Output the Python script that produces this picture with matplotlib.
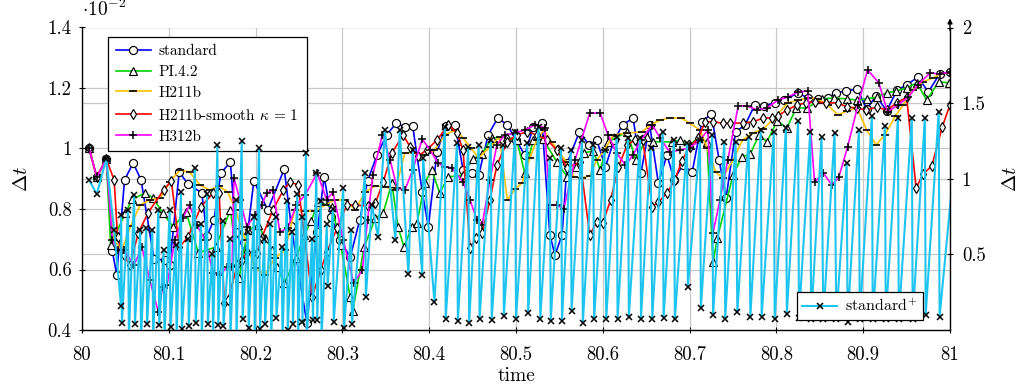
import matplotlib
matplotlib.use('Agg')
import matplotlib.pyplot as plt
from matplotlib.ticker import FixedLocator, FuncFormatter

plt.rcParams['font.family'] = ['cmr10', 'DejaVu Serif']
plt.rcParams['mathtext.fontset'] = 'cm'
plt.rcParams['axes.unicode_minus'] = False
plt.rcParams['axes.formatter.use_mathtext'] = True

# ---------------- data ----------------
std_t = [80.008, 80.017, 80.028, 80.035, 80.040, 80.049, 80.059, 80.068, 80.083, 80.096, 80.101,
         80.112, 80.122, 80.138, 80.144, 80.152, 80.160, 80.171, 80.177, 80.188, 80.198, 80.214,
         80.233, 80.241, 80.259, 80.271, 80.279, 80.287, 80.297, 80.309, 80.320, 80.329, 80.340,
         80.351, 80.362, 80.372, 80.381, 80.392, 80.399, 80.409, 80.419, 80.430, 80.439, 80.449,
         80.457, 80.468, 80.479, 80.490, 80.500, 80.510, 80.520, 80.530, 80.539, 80.545, 80.553,
         80.559, 80.573, 80.584, 80.593, 80.603, 80.613, 80.623, 80.635, 80.644, 80.654, 80.664,
         80.674, 80.682, 80.692, 80.703, 80.714, 80.725, 80.734, 80.742, 80.753, 80.764, 80.775,
         80.786, 80.798, 80.809, 80.825, 80.836, 80.848, 80.859, 80.869, 80.880, 80.893, 80.904,
         80.915, 80.927, 80.939, 80.950, 80.963, 80.975, 80.988, 81.000]
std_v = [1.002, 0.906, 0.965, 0.661, 0.582, 0.896, 0.952, 0.896, 0.635, 0.631, 0.615,
         0.922, 0.883, 0.853, 0.711, 0.764, 0.919, 0.955, 0.724, 0.655, 0.893, 0.797,
         0.932, 0.744, 0.423, 0.724, 0.906, 0.774, 0.698, 0.641, 0.764, 0.893, 0.979,
         1.045, 1.084, 1.071, 1.074, 0.856, 0.741, 0.988, 1.074, 1.078, 0.929, 0.919,
         0.912, 1.045, 1.101, 1.078, 1.028, 0.979, 1.071, 1.084, 0.714, 0.648, 0.714,
         0.952, 1.055, 1.012, 1.028, 0.939, 1.028, 1.078, 1.101, 0.919, 1.078, 0.886,
         0.979, 0.896, 0.945, 0.922, 1.088, 1.114, 0.962, 0.836, 1.055, 1.078, 1.144,
         1.141, 1.151, 1.160, 1.184, 1.167, 1.164, 1.167, 1.184, 1.190, 1.197, 1.131,
         1.174, 1.124, 1.193, 1.210, 1.236, 1.187, 1.246, 1.253]

pi_t = [80.008, 80.017, 80.028, 80.033, 80.050, 80.058, 80.073, 80.082, 80.093, 80.105, 80.120,
        80.134, 80.154, 80.171, 80.181, 80.191, 80.203, 80.211, 80.219, 80.225, 80.233, 80.247,
        80.256, 80.264, 80.272, 80.288, 80.298, 80.309, 80.312, 80.325, 80.338, 80.347, 80.357,
        80.364, 80.371, 80.380, 80.386, 80.395, 80.403, 80.412, 80.422, 80.439, 80.450, 80.461,
        80.472, 80.490, 80.501, 80.510, 80.520, 80.531, 80.547, 80.559, 80.569, 80.578, 80.589,
        80.597, 80.606, 80.628, 80.638, 80.651, 80.658, 80.680, 80.689, 80.700, 80.710, 80.720,
        80.727, 80.732, 80.750, 80.760, 80.770, 80.780, 80.789, 80.801, 80.812, 80.823, 80.835,
        80.853, 80.866, 80.881, 80.893, 80.904, 80.916, 80.927, 80.938, 80.950, 80.962, 80.973,
        80.987, 80.999]
pi_v = [1.002, 0.906, 0.965, 0.681, 0.787, 0.833, 0.853, 0.836, 0.787, 0.741, 0.790,
        0.655, 0.674, 0.797, 0.572, 0.731, 0.747, 0.704, 0.664, 0.608, 0.555, 0.638,
        0.714, 0.760, 0.823, 0.807, 0.681, 0.509, 0.463, 0.674, 0.770, 0.787, 0.886,
        0.741, 0.674, 0.741, 0.754, 0.886, 0.929, 0.853, 0.906, 0.912, 0.965, 0.982,
        1.035, 1.038, 1.028, 0.919, 1.028, 1.031, 0.956, 0.906, 0.939, 0.985, 0.992,
        0.929, 1.022, 1.055, 0.962, 1.038, 1.022, 1.022, 1.028, 1.012, 1.035, 1.022,
        0.625, 0.704, 0.912, 0.972, 0.982, 1.045, 1.022, 1.091, 1.068, 1.134, 1.134,
        1.164, 1.167, 1.164, 1.160, 1.164, 1.170, 1.184, 1.190, 1.200, 1.217, 1.160,
        1.220, 1.217]

h211_t = [80.008, 80.017, 80.028, 80.037, 80.046, 80.056, 80.067, 80.078, 80.090, 80.101, 80.113,
          80.124, 80.136, 80.147, 80.158, 80.168, 80.177, 80.188, 80.199, 80.211, 80.222, 80.234,
          80.245, 80.257, 80.268, 80.280, 80.291, 80.303, 80.315, 80.326, 80.338, 80.349, 80.361,
          80.372, 80.384, 80.395, 80.406, 80.418, 80.430, 80.439, 80.448, 80.457, 80.470, 80.481,
          80.490, 80.499, 80.507, 80.516, 80.524, 80.532, 80.541, 80.558, 80.567, 80.576, 80.585,
          80.593, 80.602, 80.612, 80.628, 80.645, 80.655, 80.666, 80.677, 80.690, 80.700, 80.712,
          80.720, 80.730, 80.738, 80.750, 80.761, 80.773, 80.785, 80.798, 80.813, 80.825, 80.836,
          80.848, 80.859, 80.871, 80.881, 80.893, 80.904, 80.915, 80.925, 80.937, 80.946, 80.957,
          80.969, 80.980, 80.992, 81.000]
h211_v = [1.002, 0.906, 0.965, 0.698, 0.664, 0.744, 0.813, 0.830, 0.836, 0.889, 0.929,
          0.922, 0.879, 0.863, 0.876, 0.856, 0.797, 0.698, 0.605, 0.582, 0.638, 0.664,
          0.797, 0.793, 0.793, 0.813, 0.830, 0.830, 0.797, 0.856, 0.876, 0.873, 0.863,
          0.985, 0.985, 0.979, 0.995, 1.045, 1.061, 1.035, 1.002, 0.969, 1.005, 1.038,
          0.830, 0.866, 0.886, 0.969, 1.028, 1.061, 1.022, 0.956, 0.906, 0.903, 0.909,
          0.962, 0.995, 1.045, 1.051, 1.055, 1.078, 1.094, 1.101, 1.101, 1.084, 1.061,
          1.002, 0.922, 0.903, 0.962, 1.028, 1.051, 1.065, 1.101, 1.151, 1.160, 1.167,
          1.164, 1.144, 1.111, 1.124, 1.134, 1.061, 1.012, 1.045, 1.107, 1.144, 1.193,
          1.220, 1.233, 1.250, 1.250]

smooth_t = [80.008, 80.017, 80.028, 80.037, 80.041, 80.048, 80.055, 80.065, 80.076, 80.094, 80.103,
            80.112, 80.122, 80.137, 80.151, 80.158, 80.164, 80.168, 80.179, 80.184, 80.190, 80.202,
            80.207, 80.220, 80.232, 80.240, 80.249, 80.265, 80.275, 80.282, 80.294, 80.305, 80.315,
            80.329, 80.338, 80.347, 80.357, 80.370, 80.378, 80.387, 80.397, 80.409, 80.422, 80.432,
            80.439, 80.447, 80.454, 80.461, 80.470, 80.478, 80.490, 80.501, 80.513, 80.524, 80.536,
            80.547, 80.559, 80.574, 80.585, 80.593, 80.600, 80.609, 80.618, 80.628, 80.637, 80.646,
            80.657, 80.664, 80.674, 80.683, 80.691, 80.700, 80.710, 80.718, 80.727, 80.738, 80.747,
            80.762, 80.773, 80.785, 80.795, 80.802, 80.812, 80.824, 80.834, 80.844, 80.857, 80.871,
            80.881, 80.893, 80.903, 80.916, 80.927, 80.939, 80.950, 80.961, 80.969, 80.979, 80.991,
            81.000]
smooth_v = [1.002, 0.906, 0.965, 0.896, 0.707, 0.648, 0.615, 0.721, 0.787, 0.863, 0.893,
            0.674, 0.707, 0.807, 0.853, 0.853, 0.489, 0.499, 0.615, 0.631, 0.658, 0.655,
            0.704, 0.797, 0.863, 0.889, 0.879, 0.509, 0.598, 0.658, 0.737, 0.813, 0.813,
            0.810, 0.820, 0.889, 0.985, 1.045, 1.005, 0.975, 0.995, 1.028, 1.078, 1.051,
            0.995, 0.671, 0.704, 0.721, 0.830, 0.945, 1.022, 1.045, 1.055, 1.045, 1.028,
            0.995, 0.936, 0.956, 0.714, 0.757, 0.754, 0.830, 0.939, 1.012, 1.028, 1.028,
            0.807, 0.823, 0.853, 0.896, 0.959, 1.005, 1.035, 1.088, 1.088, 1.084, 1.084,
            1.084, 1.088, 1.101, 1.101, 1.108, 1.127, 1.144, 1.151, 1.154, 1.151, 1.151,
            1.137, 1.134, 1.127, 1.137, 1.127, 1.151, 1.170, 0.869, 0.916, 0.942, 1.071,
            1.144]

h312_t = [80.008, 80.017, 80.028, 80.035, 80.041, 80.048, 80.060, 80.069, 80.078, 80.088, 80.093,
          80.098, 80.107, 80.116, 80.124, 80.132, 80.142, 80.151, 80.159, 80.167, 80.173, 80.175,
          80.182, 80.190, 80.199, 80.207, 80.213, 80.220, 80.228, 80.237, 80.247, 80.257, 80.271,
          80.282, 80.289, 80.301, 80.313, 80.323, 80.329, 80.335, 80.346, 80.355, 80.363, 80.372,
          80.381, 80.392, 80.401, 80.410, 80.418, 80.426, 80.439, 80.447, 80.455, 80.461, 80.470,
          80.478, 80.487, 80.499, 80.510, 80.522, 80.533, 80.539, 80.547, 80.555, 80.568, 80.585,
          80.597, 80.606, 80.616, 80.626, 80.635, 80.644, 80.657, 80.666, 80.677, 80.689, 80.700,
          80.712, 80.721, 80.727, 80.735, 80.744, 80.756, 80.766, 80.778, 80.789, 80.802, 80.813,
          80.825, 80.836, 80.844, 80.854, 80.864, 80.872, 80.882, 80.894, 80.905, 80.918, 80.928,
          80.940, 80.952, 80.963, 80.977, 80.988, 81.000]
h312_v = [1.002, 0.906, 0.965, 0.698, 0.664, 0.664, 0.615, 0.674, 0.565, 0.460, 0.542,
          0.549, 0.698, 0.770, 0.813, 0.747, 0.698, 0.588, 0.582, 0.608, 0.608, 0.903,
          0.830, 0.741, 0.780, 0.813, 0.853, 0.863, 0.724, 0.737, 0.813, 0.846, 0.919,
          0.830, 0.856, 0.698, 0.555, 0.598, 0.764, 0.912, 1.045, 0.962, 0.869, 0.863,
          0.929, 1.031, 0.995, 0.952, 0.939, 0.936, 0.889, 0.830, 0.764, 0.747, 0.896,
          1.012, 1.045, 1.051, 1.061, 1.078, 1.068, 0.813, 0.813, 0.800, 0.962, 1.117,
          1.117, 1.045, 0.985, 0.945, 0.979, 1.028, 1.078, 1.035, 0.988, 0.995, 1.002,
          1.028, 1.061, 0.721, 0.830, 0.962, 1.141, 1.141, 1.127, 1.134, 1.160, 1.170,
          1.187, 1.190, 0.889, 0.919, 0.879, 0.906, 1.005, 1.144, 1.260, 1.217, 1.121,
          1.144, 1.170, 1.210, 1.250, 1.246, 1.253]

# standard+ (right axis)
plus_t = [80.008, 80.017, 80.028, 80.037, 80.045,
          80.045, 80.046, 80.053, 80.054, 80.060, 80.061, 80.067, 80.068, 80.074, 80.075,
          80.081, 80.082, 80.088, 80.089, 80.094, 80.095, 80.101, 80.102, 80.108, 80.109,
          80.114, 80.115, 80.122, 80.123, 80.130, 80.131, 80.137, 80.138, 80.144, 80.145,
          80.150, 80.151, 80.156, 80.157, 80.162, 80.163, 80.170, 80.171, 80.177, 80.178,
          80.184, 80.185, 80.191, 80.192, 80.198, 80.199, 80.204, 80.205, 80.210, 80.211,
          80.217, 80.218, 80.223, 80.224, 80.230, 80.231, 80.236, 80.237, 80.242, 80.243,
          80.248, 80.249, 80.253, 80.254, 80.258, 80.259, 80.265, 80.266, 80.270, 80.271,
          80.275, 80.276, 80.282, 80.283, 80.289, 80.290, 80.301, 80.302, 80.310, 80.311,
          80.326, 80.327, 80.334, 80.341, 80.349, 80.361, 80.366, 80.376, 80.381, 80.392,
          80.393, 80.406, 80.418, 80.419,
          80.432, 80.433, 80.445, 80.446, 80.457, 80.458, 80.471, 80.472, 80.485, 80.486,
          80.499, 80.500, 80.513, 80.514, 80.526, 80.528, 80.539, 80.540, 80.552, 80.553,
          80.563, 80.564, 80.576, 80.577, 80.589, 80.590, 80.602, 80.604, 80.616, 80.617,
          80.629, 80.630, 80.643, 80.644, 80.655, 80.657, 80.669, 80.670, 80.682, 80.683,
          80.697, 80.698, 80.712, 80.713, 80.726, 80.727, 80.740, 80.741, 80.753, 80.755,
          80.768, 80.770, 80.782, 80.783, 80.797, 80.798, 80.811, 80.812, 80.825, 80.826,
          80.839, 80.840, 80.852, 80.854, 80.867, 80.869, 80.881, 80.882, 80.895, 80.896,
          80.910, 80.911, 80.925, 80.926, 80.940, 80.941, 80.956, 80.957, 80.971, 80.972,
          80.987, 80.988, 81.008]
plus_v = [0.992, 0.899, 1.131, 0.661, 0.159,
          0.760, 0.046, 0.794, -0.05, 0.893, 0.040, 0.661, -0.05, 0.674, 0.040,
          0.660, -0.05, 0.794, 0.033, 0.530, -0.05, 0.794, 0.020, 0.560, -0.05,
          0.912, 0.007, 0.600, 0.026, 1.071, 0.046, 0.700, -0.05, 0.900, 0.040,
          0.500, -0.05, 1.223, 0.033, 0.720, 0.026, 0.600, -0.05, 0.860, -0.05,
          1.250, 0.073, 0.650, 0.013, 0.750, -0.05, 1.203, 0.007, 0.600, 0.040,
          0.700, -0.05, 0.750, 0.079, 0.550, -0.05, 0.850, 0.000, 0.650, 0.040,
          0.900, -0.05, 0.750, 0.050, 1.170, -0.05, 0.600, 0.066, 1.038, 0.066,
          0.850, -0.05, 0.700, 0.291, 0.800, 0.053, 0.939, 0.013, 0.661, 0.040,
          1.038, 0.218, 0.827, 0.615, 1.322, 0.595, 1.322, 0.370, 1.190, 0.364,
          1.137, 0.185, 1.342, 0.073,
          1.236, 0.060, 1.210, 0.046, 1.223, 0.073, 1.256, 0.066, 1.223, 0.093,
          1.309, 0.073, 1.236, 0.112, 1.342, 0.073, 1.137, 0.060, 1.203, 0.060,
          1.190, 0.126, 1.256, 0.046, 1.223, 0.073, 1.190, 0.073, 1.276, 0.073,
          1.269, 0.086, 1.269, 0.073, 1.203, 0.073, 1.309, 0.079, 1.256, 0.073,
          1.236, 0.284, 1.256, 0.145, 1.289, 0.099, 1.243, 0.073, 1.243, 0.119,
          1.276, 0.086, 1.322, 0.086, 1.309, 0.073, 1.336, 0.106, 1.382, 0.079,
          1.309, 0.070, 1.276, 0.070, 1.303, 0.070, 1.105, 0.053, 1.322, 0.070,
          1.415, 0.070, 1.349, 0.070, 1.402, 0.070, 1.402, 0.070, 1.402, 0.099,
          1.441, 0.086, 1.300]

x_ticks = [80, 80.1, 80.2, 80.3, 80.4, 80.5, 80.6, 80.7, 80.8, 80.9, 81]
left_ticks = [0.4, 0.6, 0.8, 1.0, 1.2, 1.4]
right_ticks = [0.5, 1.0, 1.5, 2.0]
xlim = (80, 81)
left_lim = (0.4, 1.4)
right_lim = (0.0, 2.0)

# ---------------- figure ----------------
fig = plt.figure(figsize=(10.23, 3.89), dpi=100)
ax = fig.add_axes([82 / 1023, 1 - 330 / 389, 868 / 1023, 302.5 / 389])
ax2 = ax.twinx()

grid_c = '#c8c8c8'
ax.set_xlim(*xlim)
ax.set_ylim(*left_lim)
ax2.set_ylim(*right_lim)

# grid lines (all drawn on the main axes, below the data)
for xv in x_ticks:
    ax.axvline(xv, color=grid_c, lw=0.9, zorder=0)
for yv in left_ticks:
    ax.axhline(yv, color=grid_c, lw=0.9, zorder=0)
for rv in right_ticks:
    yv = left_lim[0] + (rv - right_lim[0]) / (right_lim[1] - right_lim[0]) * (left_lim[1] - left_lim[0])
    ax.axhline(yv, color=grid_c, lw=0.9, zorder=0)

lw = 1.2
mk = dict(markeredgecolor='black', markeredgewidth=0.85)
l1, = ax.plot(std_t, std_v, color='#0000ff', lw=lw, marker='o', markersize=5.8,
              markerfacecolor='white', label='standard', **mk)
l2, = ax.plot(pi_t, pi_v, color='#00d200', lw=lw, marker='^', markersize=5.2,
              markerfacecolor='white', label='PI.4.2', **mk)
l3, = ax.plot(h211_t, h211_v, color='#ffc000', lw=lw, marker='_', markersize=6,
              label='H211b', markeredgecolor='black', markeredgewidth=1.2)
l4, = ax.plot(smooth_t, smooth_v, color='#ff0000', lw=lw, marker='d', markersize=5.2,
              markerfacecolor='white', label=r'H211b-smooth $\kappa\,=\,1$', **mk)
l5, = ax.plot(h312_t, h312_v, color='#ff00ff', lw=lw, marker='+', markersize=6,
              label='H312b', markeredgecolor='black', markeredgewidth=1.1)

l6, = ax2.plot(plus_t, plus_v, color='#1ec4f0', lw=1.5, marker='x', markersize=3.8,
               markeredgecolor='black', markeredgewidth=1.1, label=r'standard$^{+}$')

# ticks & labels
fmt = FuncFormatter(lambda v, p: f'{round(v, 3):g}')
ax.xaxis.set_major_locator(FixedLocator(x_ticks))
ax.xaxis.set_major_formatter(fmt)
ax.yaxis.set_major_locator(FixedLocator(left_ticks))
ax.yaxis.set_major_formatter(fmt)
ax2.yaxis.set_major_locator(FixedLocator(right_ticks))
ax2.yaxis.set_major_formatter(fmt)

for a in (ax, ax2):
    a.tick_params(direction='inout', length=5, width=0.8, labelsize=13.5, colors='black')
    a.spines['top'].set_visible(False)
ax.spines['right'].set_visible(False)
ax2.spines['left'].set_visible(False)
ax2.spines['bottom'].set_visible(False)
for s in ('left', 'bottom'):
    ax.spines[s].set_linewidth(1.0)
ax2.spines['right'].set_linewidth(1.0)
ax.tick_params(axis='x', pad=9)
ax.tick_params(axis='y', pad=5)
ax2.tick_params(axis='y', pad=6)

ax.annotate('', xy=(1, 1.03), xytext=(1, 0.99), xycoords='axes fraction',
            arrowprops=dict(arrowstyle='-|>', lw=1.0, color='black', mutation_scale=7,
                            shrinkA=0, shrinkB=0))

ax.set_xlabel('time', fontsize=14, labelpad=2)
ax.set_ylabel(r'$\Delta t$', fontsize=15, labelpad=12)
ax2.set_ylabel(r'$\Delta t$', fontsize=15, labelpad=12)
ax.text(0.0, 1.025, r'$\cdot 10^{-2}$', transform=ax.transAxes, fontsize=14,
        ha='left', va='bottom')

leg1 = ax.legend(handles=[l1, l2, l3, l4, l5], loc='upper left', bbox_to_anchor=(0.03, 0.969),
                 borderaxespad=0, fontsize=11, frameon=True, fancybox=False, framealpha=1,
                 edgecolor='black', handlelength=2.3, labelspacing=0.46, borderpad=0.5,
                 handletextpad=0.5)
leg1.get_frame().set_linewidth(0.9)
leg1.set_zorder(1)

leg2 = ax2.legend(handles=[l6], loc='lower right', bbox_to_anchor=(0.969, 0.033),
                  borderaxespad=0, fontsize=11.5, frameon=True, fancybox=False, framealpha=1,
                  edgecolor='black', handlelength=2.2, borderpad=0.35, handletextpad=0.5)
leg2.get_frame().set_linewidth(0.9)

fig.savefig('out.png', dpi=100)
